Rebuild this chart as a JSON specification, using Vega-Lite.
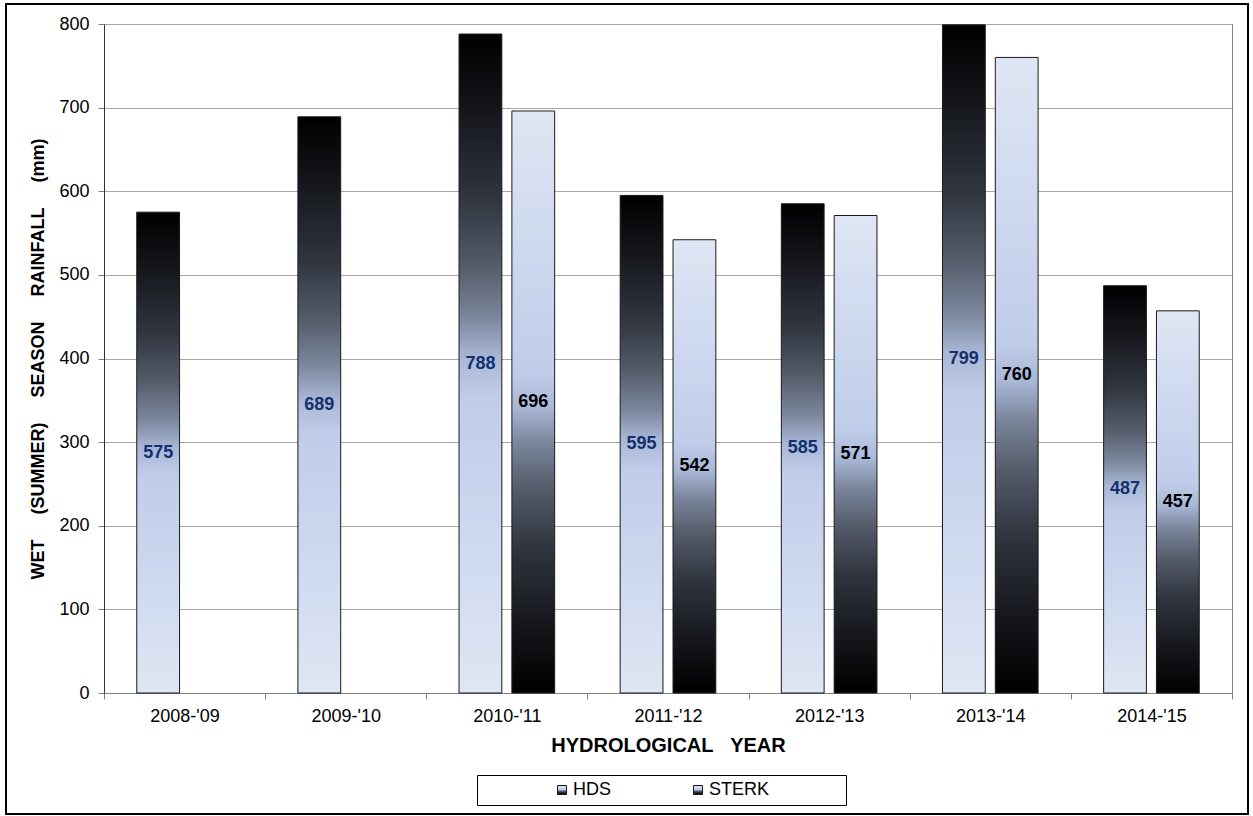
{
  "$schema": "https://vega.github.io/schema/vega-lite/v6.json",
  "width": 1128,
  "height": 669,
  "autosize": {"type": "none"},
  "padding": {"left": 104, "top": 24, "right": 21, "bottom": 123},
  "background": "#ffffff",
  "config": {
    "font": "Liberation Sans",
    "view": {"stroke": "#808080", "strokeWidth": 1}
  },
  "data": {
    "values": [
      {"year": "2008-'09", "series": "HDS", "rainfall": 575},
      {"year": "2009-'10", "series": "HDS", "rainfall": 689},
      {"year": "2010-'11", "series": "HDS", "rainfall": 788},
      {"year": "2010-'11", "series": "STERK", "rainfall": 696},
      {"year": "2011-'12", "series": "HDS", "rainfall": 595},
      {"year": "2011-'12", "series": "STERK", "rainfall": 542},
      {"year": "2012-'13", "series": "HDS", "rainfall": 585},
      {"year": "2012-'13", "series": "STERK", "rainfall": 571},
      {"year": "2013-'14", "series": "HDS", "rainfall": 799},
      {"year": "2013-'14", "series": "STERK", "rainfall": 760},
      {"year": "2014-'15", "series": "HDS", "rainfall": 487},
      {"year": "2014-'15", "series": "STERK", "rainfall": 457}
    ]
  },
  "layer": [
    {
      "data": {"values": [{"frame": "outer"}]},
      "mark": {
        "type": "rect",
        "filled": false,
        "stroke": "#000000",
        "strokeWidth": 2,
        "xOffset": -98,
        "x2Offset": 16,
        "yOffset": -20,
        "y2Offset": 121
      },
      "encoding": {
        "x": {"value": 0},
        "x2": {"value": "width"},
        "y": {"value": 0},
        "y2": {"value": "height"}
      }
    },
    {
      "mark": {"type": "bar", "strokeWidth": 1},
      "encoding": {
        "x": {
          "field": "year",
          "type": "nominal",
          "sort": null,
          "scale": {"paddingInner": 0, "paddingOuter": 0},
          "axis": {
            "title": "HYDROLOGICAL\u00a0\u00a0\u00a0YEAR",
            "titleFont": "Liberation Sans",
            "titleFontSize": 20,
            "titleFontWeight": "bold",
            "titleColor": "#000000",
            "titlePadding": 10,
            "labelAngle": 0,
            "labelFont": "Liberation Sans",
            "labelFontSize": 18,
            "labelColor": "#000000",
            "labelPadding": 8,
            "tickSize": 6,
            "tickColor": "#808080",
            "tickBand": "extent",
            "domainColor": "#808080",
            "grid": false
          }
        },
        "xOffset": {
          "field": "series",
          "type": "nominal",
          "scale": {"domain": ["HDS", "STERK"], "paddingInner": 0.19, "paddingOuter": 0.62}
        },
        "y": {
          "field": "rainfall",
          "type": "quantitative",
          "scale": {"domain": [0, 800], "nice": false},
          "axis": {
            "title": "WET\u00a0\u00a0\u00a0\u00a0\u00a0(SUMMER)\u00a0\u00a0\u00a0\u00a0\u00a0SEASON\u00a0\u00a0\u00a0\u00a0\u00a0RAINFALL\u00a0\u00a0\u00a0\u00a0\u00a0(mm)",
            "titleFont": "Liberation Sans",
            "titleFontSize": 18,
            "titleFontWeight": "bold",
            "titleColor": "#000000",
            "titlePadding": 11,
            "values": [0, 100, 200, 300, 400, 500, 600, 700, 800],
            "labelFont": "Liberation Sans",
            "labelFontSize": 18,
            "labelColor": "#000000",
            "labelPadding": 9,
            "tickSize": 6,
            "tickColor": "#808080",
            "domainColor": "#333333",
            "gridColor": "#a6a6a6",
            "gridWidth": 1
          }
        },
        "fill": {
          "condition": {
            "test": "datum.series === 'HDS'",
            "value": {
              "gradient": "linear",
              "x1": 0, "y1": 0, "x2": 0, "y2": 1,
              "stops": [
                {"offset": 0, "color": "#000000"},
                {"offset": 0.12, "color": "#15171c"},
                {"offset": 0.25, "color": "#30353f"},
                {"offset": 0.35, "color": "#545b69"},
                {"offset": 0.43, "color": "#7b869c"},
                {"offset": 0.49, "color": "#a8b7d6"},
                {"offset": 0.55, "color": "#c0cdea"},
                {"offset": 0.75, "color": "#cdd8ef"},
                {"offset": 1, "color": "#dfe6f4"}
              ]
            }
          },
          "value": {
            "gradient": "linear",
            "x1": 0, "y1": 0, "x2": 0, "y2": 1,
            "stops": [
              {"offset": 0, "color": "#dfe6f4"},
              {"offset": 0.25, "color": "#cdd8ef"},
              {"offset": 0.45, "color": "#c0cdea"},
              {"offset": 0.51, "color": "#a8b7d6"},
              {"offset": 0.57, "color": "#7b869c"},
              {"offset": 0.65, "color": "#545b69"},
              {"offset": 0.75, "color": "#30353f"},
              {"offset": 0.88, "color": "#15171c"},
              {"offset": 1, "color": "#000000"}
            ]
          }
        },
        "stroke": {
          "field": "series",
          "type": "nominal",
          "scale": {"domain": ["HDS", "STERK"], "range": ["#1a1a1a", "#1a1a1a"]},
          "legend": {
            "title": null,
            "orient": "none",
            "legendX": 373,
            "legendY": 751,
            "direction": "horizontal",
            "symbolType": "square",
            "symbolSize": 81,
            "symbolStrokeWidth": 1,
            "symbolStrokeColor": "#333333",
            "symbolOffset": 70,
            "labelFont": "Liberation Sans",
            "labelFontSize": 18,
            "labelColor": "#000000",
            "labelOffset": 2,
            "labelExpr": "datum.label === 'STERK' ? datum.label + '\u00a0\u00a0\u00a0\u00a0\u00a0\u00a0\u00a0\u00a0\u00a0\u00a0\u00a0\u00a0\u00a0\u00a0\u200b' : datum.label",
            "columnPadding": 7,
            "padding": 6,
            "strokeColor": "#000000",
            "fillColor": "#ffffff",
            "encode": {
              "symbols": {
                "update": {
                  "stroke": {"value": "#333333"},
                  "fill": [
                    {
                      "test": "datum.value === 'HDS'",
                      "value": {
                        "gradient": "linear",
                        "x1": 0, "y1": 0, "x2": 0, "y2": 1,
                        "stops": [
                          {"offset": 0, "color": "#3c4250"},
                          {"offset": 1, "color": "#c0cdea"}
                        ]
                      }
                    },
                    {
                      "value": {
                        "gradient": "linear",
                        "x1": 0, "y1": 0, "x2": 0, "y2": 1,
                        "stops": [
                          {"offset": 0, "color": "#c3cfea"},
                          {"offset": 1, "color": "#e3e8f4"}
                        ]
                      }
                    }
                  ]
                }
              }
            }
          }
        }
      }
    },
    {
      "mark": {
        "type": "text",
        "font": "Liberation Sans",
        "fontSize": 18,
        "fontWeight": "bold",
        "baseline": "middle",
        "align": "center"
      },
      "encoding": {
        "x": {"field": "year", "type": "nominal", "sort": null},
        "xOffset": {"field": "series", "type": "nominal"},
        "y": {
          "field": "rainfall",
          "type": "quantitative",
          "scale": {"domain": [0, 1600], "nice": false},
          "axis": null
        },
        "text": {"field": "rainfall", "type": "quantitative"},
        "color": {
          "condition": {"test": "datum.series === 'HDS'", "value": "#14306e"},
          "value": "#000000"
        }
      }
    }
  ],
  "resolve": {"scale": {"y": "independent"}}
}
